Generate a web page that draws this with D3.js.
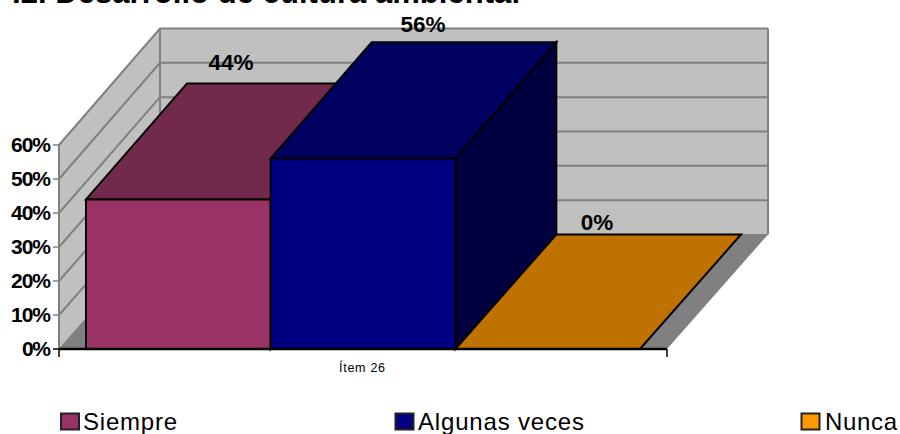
<!DOCTYPE html>
<html><head><meta charset="utf-8"><script src="https://d3js.org/d3.v7.min.js"></script>
<style>html,body{margin:0;background:#fff}svg{display:block}text{font-family:"Liberation Sans",Arial,sans-serif}</style></head>
<body><svg id="c" width="900" height="434"></svg>
<script>
const titleText="I2. Desarrollo de cultura ambiental";
const categories=["Ítem 26"];
const seriesNames=["Siempre","Algunas veces","Nunca"];
const seriesValues=[44,56,0];
const seriesLabels=["44%","56%","0%"];
const tickValues=[0,10,20,30,40,50,60];
const colors=["#993366","#000080","#FF9900"];
const topColors=["#722A4C","#000060","#BF7200"];
const sideColors=["#000040"];
const svg=d3.select("#c");
const y=d3.scaleLinear().domain([0,60]).range([349,145]);
const x=d3.scaleBand().domain(categories).range([59,667]);
const bandIn=d3.scaleBand().domain(seriesNames).range([86,640]);
const dx=101;
const dyAt=v=>d3.scaleLinear().domain([0,60]).range([114.5,116.5])(v);
const pt=(px,v,back)=>[px+(back?dx:0),y(v)-(back?dyAt(v):0)];
const poly=(pts,fill,stroke,sw)=>svg.append("path").attr("d",d3.line()(pts)+"Z").attr("fill",fill).attr("stroke",stroke||"none").attr("stroke-width",sw||0).attr("stroke-linejoin","miter");
const x0=x.range()[0],x1=x.range()[1];
const grey="#808080",wall="#C0C0C0";
poly([pt(x0,0,1),pt(x1,0,1),pt(x1,60,1),pt(x0,60,1)],wall);
poly([pt(x0,0,0),pt(x0,0,1),pt(x0,60,1),pt(x0,60,0)],wall);
poly([pt(x0,0,0),pt(x1,0,0),pt(x1,0,1),pt(x0,0,1)],grey);
tickValues.forEach(t=>{
  if(t>0) svg.append("path").attr("d",d3.line()([pt(x0,t,0),pt(x0,t,1),pt(x1,t,1)])).attr("fill","none").attr("stroke",grey).attr("stroke-width",2);
});
svg.append("path").attr("d",d3.line()([pt(x0,0,0),pt(x0,60,0)])).attr("stroke",grey).attr("stroke-width",2);
svg.append("path").attr("d",d3.line()([pt(x0,0,1),pt(x0,60,1)])).attr("stroke",grey).attr("stroke-width",2);
svg.append("path").attr("d",d3.line()([pt(x1,0,1),pt(x1,60,1)])).attr("stroke",grey).attr("stroke-width",2);
svg.append("path").attr("d",d3.line()([pt(x0,0,0),pt(x0,0,1),pt(x1,0,1)])).attr("fill","none").attr("stroke",grey).attr("stroke-width",1);
const bk="#000",sw=2;
seriesNames.forEach((n,i)=>{
  const v=seriesValues[i],l=bandIn(n),r=l+bandIn.bandwidth();
  if(v>0){
    poly([pt(r,0,0),pt(r,0,1),pt(r,v,1),pt(r,v,0)],sideColors[0],bk,sw);
    poly([pt(l,v,0),pt(r,v,0),pt(r,v,1),pt(l,v,1)],topColors[i],bk,sw);
    poly([pt(l,0,0),pt(r,0,0),pt(r,v,0),pt(l,v,0)],colors[i],bk,sw);
  } else {
    poly([pt(l,v,0),pt(r,v,0),pt(r,v,1),pt(l,v,1)],topColors[i],bk,sw);
  }
});
svg.append("path").attr("d",d3.line()([[x0,349],[x1,349]])).attr("stroke",bk).attr("stroke-width",2.5);
[x0,x1].forEach(px=>svg.append("path").attr("d",d3.line()([[px,349],[px,357]])).attr("stroke",bk).attr("stroke-width",1.5));
tickValues.forEach(t=>{
  svg.append("path").attr("d",d3.line()([[53,y(t)],[59,y(t)]])).attr("stroke",t?grey:bk).attr("stroke-width",1.5);
  svg.append("text").attr("x",51).attr("y",y(t)+7).attr("text-anchor","end").attr("font-size",21).attr("font-weight","bold").attr("textLength",t?40:29).text(t+"%");
});
svg.append("text").attr("x",362).attr("y",372).attr("text-anchor","middle").attr("font-size",12.5).attr("textLength",46).text(categories[0]);
const labelPos=[[231,70],[423,32],[597,230]];
seriesLabels.forEach((s,i)=>svg.append("text").attr("x",labelPos[i][0]).attr("y",labelPos[i][1]).attr("text-anchor","middle").attr("font-size",22.5).attr("font-weight","bold").text(s));
const lg=[[61,83,94],[395.5,418,166],[801.5,825,72]];
seriesNames.forEach((n,i)=>{
  svg.append("rect").attr("x",lg[i][0]).attr("y",413.5).attr("width",18).attr("height",16).attr("fill",colors[i]).attr("stroke","#222").attr("stroke-width",2);
  svg.append("text").attr("x",lg[i][1]).attr("y",429.5).attr("font-size",24).attr("textLength",lg[i][2]).text(n);
});
svg.append("text").attr("x",12).attr("y",3).attr("font-size",31).attr("font-weight","bold").attr("textLength",508).text(titleText);
</script></body></html>
